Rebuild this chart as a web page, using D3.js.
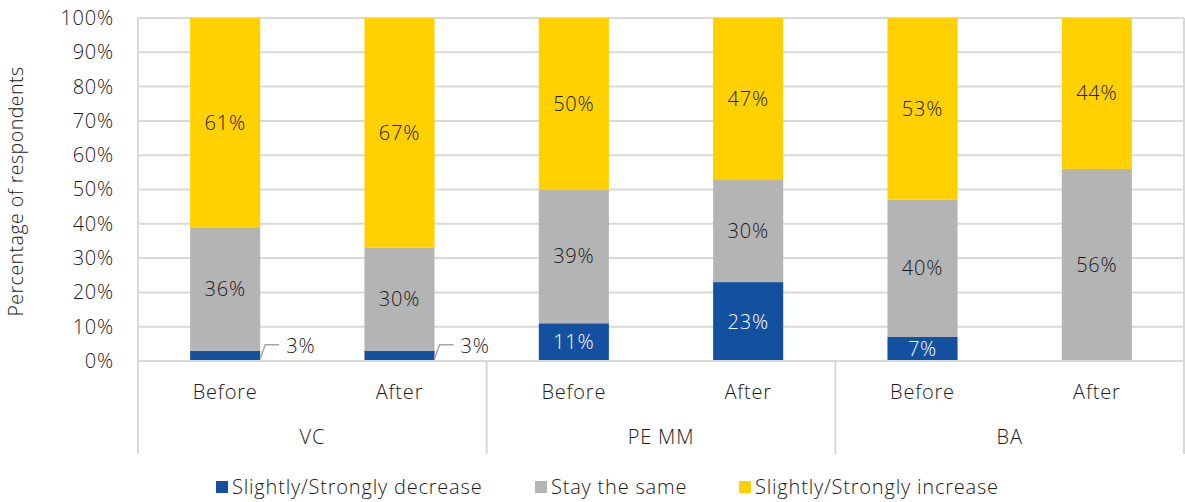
<!DOCTYPE html>
<html>
<head>
<meta charset="utf-8">
<script src="https://cdn.jsdelivr.net/npm/d3@7"></script>
<style>
  html, body { margin: 0; padding: 0; background: #ffffff; }
  svg { display: block; }
  text { font-family: "Open Sans", "Lato", sans-serif; font-weight: 300; fill: #1a1a1a; letter-spacing: 0.8px; }
</style>
</head>
<body>
<svg id="chart" width="1185" height="502"></svg>
<script>
// ---- Data ----
const groups = ["VC", "PE MM", "BA"];
const periods = ["Before", "After"];
const seriesNames = ["Slightly/Strongly decrease", "Stay the same", "Slightly/Strongly increase"];
const decrease = [3, 3, 11, 23, 7, 0];
const same = [36, 30, 39, 30, 40, 56];
const increase = [61, 67, 50, 47, 53, 44];
const yTicks = [0, 10, 20, 30, 40, 50, 60, 70, 80, 90, 100];
const colors = ["#1351a0", "#b4b4b4", "#ffd100"];

(function () {
const rows = [];
groups.forEach((g, gi) => periods.forEach((p, pi) => {
  const i = gi * periods.length + pi;
  rows.push({ key: g + "|" + p, group: g, period: p, v: [decrease[i], same[i], increase[i]] });
}));

const svg = d3.select("#chart");
const pL = 138, pR = 1184, pT = 18, pB = 361;
const FF = "'Open Sans', Lato, sans-serif";

const x = d3.scaleBand().domain(rows.map(d => d.key)).range([pL, pR]).paddingInner(0.598).paddingOuter(0.299);
const y = d3.scaleLinear().domain([0, 100]).range([pB, pT]);
const fs = 20;

// gridlines
svg.append("g").selectAll("line").data(yTicks).join("line")
  .attr("x1", pL).attr("x2", pR)
  .attr("y1", d => y(d)).attr("y2", d => y(d))
  .attr("stroke", "#d9d9d9").attr("stroke-width", 2);

// y axis labels
const yAxis = d3.axisLeft(y).tickValues(yTicks).tickFormat(d => d + "%").tickSize(0).tickPadding(0);
const ya = svg.append("g").attr("transform", `translate(${pL - 24},0)`).call(yAxis);
ya.select(".domain").remove();
ya.attr("font-family", null).attr("font-size", null);
ya.selectAll("text").style("font-family", FF).style("font-weight", 300).style("font-size", fs + "px").style("fill", "#1a1a1a");

// axis title
svg.append("text")
  .attr("transform", `translate(23,${(pT + pB) / 2 + 2}) rotate(-90)`)
  .attr("text-anchor", "middle")
  .style("font-size", "19.5px")
  .style("letter-spacing", "0.5px")
  .text("Percentage of respondents");

// stacked bars
const stack = rows.map(d => {
  let acc = 0;
  return d.v.map((v, s) => { const seg = { key: d.key, s, v, y0: acc, y1: acc + v }; acc += v; return seg; });
});
const segs = stack.flat().filter(s => s.v > 0);
svg.append("g").selectAll("rect").data(segs).join("rect")
  .attr("x", d => x(d.key)).attr("width", x.bandwidth())
  .attr("y", d => y(d.y1)).attr("height", d => y(d.y0) - y(d.y1))
  .attr("fill", d => colors[d.s]);

// labels
const inside = segs.filter(d => !(d.s === 0 && d.v < 5));
svg.append("g").selectAll("text").data(inside).join("text")
  .attr("x", d => x(d.key) + x.bandwidth() / 2)
  .attr("y", d => y((d.y0 + d.y1) / 2))
  .attr("dy", "0.35em")
  .attr("text-anchor", "middle")
  .style("font-size", fs + "px")
  .style("fill", d => d.s === 0 ? "#ffffff" : "#1a1a1a")
  .text(d => d.v + "%");

// outside labels with leader lines
const outside = segs.filter(d => d.s === 0 && d.v < 5);
const og = svg.append("g");
outside.forEach(d => {
  const xr = x(d.key) + x.bandwidth();
  const yt = y(d.y1);
  og.append("path")
    .attr("d", `M${xr},${yt + 8} L${xr + 5},${yt - 6} L${xr + 19},${yt - 6}`)
    .attr("fill", "none").attr("stroke", "#a6a6a6").attr("stroke-width", 1.5);
  og.append("text")
    .attr("x", xr + 26).attr("y", yt - 5).attr("dy", "0.35em")
    .style("font-size", fs + "px")
    .text(d.v + "%");
});

// category axis
const axisColor = "#d9d9d9";
svg.append("line").attr("x1", pL).attr("x2", pR).attr("y1", pB).attr("y2", pB)
  .attr("stroke", axisColor).attr("stroke-width", 2);
const gw = (pR - pL) / groups.length;
const sepX = d3.range(groups.length + 1).map(i => pL + i * gw);
svg.append("g").selectAll("line").data(sepX).join("line")
  .attr("x1", d => d).attr("x2", d => d)
  .attr("y1", (d, i) => (i === 0 || i === groups.length) ? pT : pB)
  .attr("y2", 454)
  .attr("stroke", axisColor).attr("stroke-width", 2);

svg.append("g").selectAll("text").data(rows).join("text")
  .attr("x", d => x(d.key) + x.bandwidth() / 2)
  .attr("y", 392).attr("dy", "0.35em")
  .attr("text-anchor", "middle").style("font-size", fs + "px")
  .text(d => d.period);

svg.append("g").selectAll("text").data(groups).join("text")
  .attr("x", (d, i) => pL + (i + 0.5) * gw)
  .attr("y", 437).attr("dy", "0.35em")
  .attr("text-anchor", "middle").style("font-size", fs + "px")
  .text(d => d);

// legend
const legX = [216, 535, 739];
const lg = svg.append("g");
seriesNames.forEach((n, i) => {
  lg.append("rect").attr("x", legX[i]).attr("y", 481).attr("width", 12).attr("height", 12).attr("fill", colors[i]);
  lg.append("text").attr("x", legX[i] + 16).attr("y", 487).attr("dy", "0.35em")
    .style("font-size", fs + "px").text(n);
});
})();
</script>
</body>
</html>
